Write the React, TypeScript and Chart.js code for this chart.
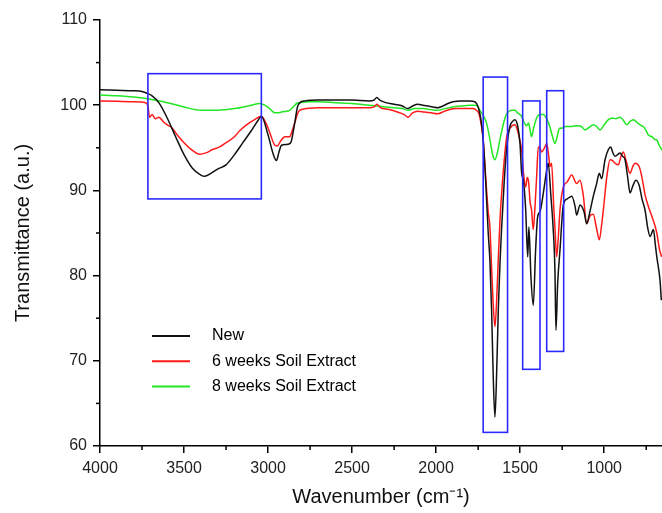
import React, { useEffect, useRef } from "react";
import { Chart, registerables } from "chart.js";

Chart.register(...registerables);

// ---- Data ----
const seriesLabels = ["New", "6 weeks Soil Extract", "8 weeks Soil Extract"];

const newWave = [4000, 3900, 3800, 3750, 3720, 3690, 3650, 3600, 3550, 3500, 3450, 3400, 3377, 3340, 3300, 3250, 3200, 3150, 3100, 3060, 3040, 3000, 2970, 2950, 2935, 2920, 2890, 2865, 2845, 2825, 2810, 2780, 2700, 2600, 2500, 2400, 2370, 2353, 2335, 2300, 2250, 2200, 2170, 2140, 2110, 2080, 2050, 2020, 1990, 1960, 1930, 1900, 1850, 1800, 1770, 1750, 1735, 1720, 1705, 1690, 1680, 1670, 1660, 1650, 1640, 1630, 1620, 1610, 1595, 1580, 1561, 1545, 1531, 1515, 1501, 1491, 1481, 1467, 1455, 1448, 1436, 1422, 1408, 1396, 1382, 1362, 1342, 1333, 1317, 1305, 1293, 1287, 1277, 1263, 1243, 1220, 1193, 1173, 1164, 1144, 1120, 1104, 1085, 1065, 1045, 1029, 1015, 995, 975, 961, 950, 936, 920, 906, 890, 876, 860, 846, 830, 811, 792, 775, 757, 740, 727, 707, 695, 687, 668, 660];
const newT = [101.8, 101.75, 101.7, 101.6, 101.4, 101.1, 100.3, 98.5, 96.3, 94.2, 92.6, 91.8, 91.65, 92.0, 92.5, 93.0, 94.2, 95.6, 97.0, 98.2, 98.7, 96.5, 94.3, 93.5, 94.5, 95.3, 95.4, 95.6, 97.5, 99.8, 100.3, 100.5, 100.6, 100.6, 100.6, 100.5, 100.6, 100.9, 100.6, 100.3, 100.1, 99.9, 99.6, 99.9, 100.1, 100.0, 99.9, 99.8, 99.7, 99.9, 100.2, 100.4, 100.5, 100.5, 100.4, 99.8, 98.5, 96.0, 91.0, 85.0, 81.8, 76.0, 68.0, 63.4, 68.5, 76.0, 81.5, 85.7, 91.0, 95.0, 97.5, 98.1, 98.3, 97.6, 95.5, 92.0, 91.2, 87.7, 82.2, 85.7, 79.9, 76.5, 83.0, 86.9, 87.5, 89.7, 92.4, 93.2, 89.3, 86.0, 80.6, 73.6, 79.0, 83.0, 88.3, 89.0, 89.3, 88.1, 87.1, 88.3, 87.5, 86.1, 87.5, 89.3, 90.8, 92.0, 91.4, 93.6, 94.8, 95.1, 94.5, 94.0, 94.2, 94.4, 94.0, 93.6, 91.5, 89.7, 90.5, 91.2, 90.6, 89.0, 87.7, 85.5, 84.6, 85.4, 83.5, 82.2, 79.5, 77.1];

const sixWave = [4000, 3900, 3800, 3730, 3715, 3705, 3690, 3670, 3650, 3620, 3600, 3570, 3540, 3500, 3450, 3407, 3370, 3330, 3288, 3250, 3200, 3169, 3120, 3080, 3040, 3010, 2985, 2960, 2945, 2925, 2900, 2871, 2860, 2840, 2820, 2800, 2700, 2600, 2500, 2400, 2370, 2353, 2330, 2280, 2230, 2190, 2167, 2140, 2110, 2070, 2030, 1990, 1950, 1920, 1880, 1820, 1780, 1760, 1745, 1730, 1720, 1705, 1690, 1680, 1670, 1660, 1650, 1640, 1630, 1620, 1610, 1595, 1580, 1560, 1531, 1515, 1501, 1491, 1480, 1467, 1458, 1451, 1440, 1432, 1422, 1412, 1402, 1392, 1382, 1372, 1355, 1342, 1330, 1322, 1313, 1300, 1293, 1283, 1273, 1263, 1243, 1220, 1193, 1164, 1144, 1125, 1104, 1085, 1065, 1045, 1029, 1015, 1005, 985, 965, 950, 936, 916, 900, 886, 870, 846, 830, 816, 792, 775, 757, 737, 717, 700, 687, 670, 658];
const sixT = [100.5, 100.45, 100.4, 100.3, 99.9, 98.6, 98.9, 98.4, 98.6, 98.0, 97.7, 97.3, 96.5, 95.6, 94.7, 94.25, 94.4, 94.8, 95.1, 95.6, 96.3, 97.0, 97.8, 98.3, 98.7, 97.8, 96.5, 95.3, 95.2, 95.8, 96.3, 96.3, 96.8, 98.0, 99.2, 99.5, 99.7, 99.7, 99.7, 99.7, 99.8, 100.1, 99.7, 99.5, 99.2, 98.9, 98.6, 99.1, 99.3, 99.2, 99.1, 99.0, 99.3, 99.5, 99.6, 99.6, 99.6, 99.4, 99.0, 97.5, 95.9, 91.5, 87.5, 85.7, 81.0, 76.5, 74.0, 77.0, 82.0, 86.5, 89.7, 93.5, 96.3, 97.3, 97.7, 97.0, 95.8, 94.7, 92.0, 90.4, 91.5, 91.2, 88.5, 87.7, 85.4, 88.0, 91.6, 95.1, 95.0, 94.5, 95.0, 95.5, 94.0, 92.8, 93.2, 88.0, 85.7, 82.2, 84.5, 87.7, 90.4, 91.0, 91.8, 90.8, 91.2, 89.5, 86.1, 87.0, 87.2, 85.5, 84.2, 86.0, 87.7, 91.5, 93.6, 93.5, 93.2, 93.0, 94.0, 94.5, 93.5, 92.0, 92.8, 93.2, 92.8, 91.5, 89.5, 88.1, 87.0, 86.0, 85.0, 83.0, 82.2];

const eightWave = [4000, 3900, 3800, 3700, 3600, 3500, 3400, 3300, 3200, 3100, 3050, 3020, 2990, 2960, 2940, 2920, 2890, 2871, 2850, 2830, 2812, 2750, 2700, 2600, 2500, 2400, 2353, 2300, 2250, 2200, 2167, 2130, 2080, 2040, 1990, 1950, 1900, 1850, 1800, 1770, 1750, 1740, 1720, 1700, 1680, 1665, 1650, 1635, 1620, 1600, 1585, 1571, 1550, 1531, 1515, 1501, 1491, 1475, 1462, 1450, 1440, 1432, 1420, 1402, 1385, 1362, 1342, 1325, 1310, 1293, 1280, 1265, 1253, 1230, 1193, 1160, 1135, 1114, 1090, 1064, 1045, 1025, 1000, 975, 950, 930, 906, 885, 866, 846, 826, 800, 780, 767, 750, 737, 715, 700, 687, 670, 656];
const eightT = [101.2, 101.1, 100.95, 100.7, 100.3, 99.8, 99.4, 99.4, 99.6, 100.0, 100.2, 100.0, 99.6, 99.1, 99.1, 99.2, 99.3, 99.4, 99.8, 100.2, 100.3, 100.4, 100.4, 100.3, 100.2, 100.0, 99.9, 99.8, 99.7, 99.6, 99.4, 99.6, 99.6, 99.5, 99.4, 99.6, 99.8, 99.9, 100.0, 100.0, 99.8, 99.4, 98.8, 97.9, 96.0, 94.3, 93.6, 94.5, 96.0, 97.8, 98.8, 99.2, 99.4, 99.4, 99.1, 98.9, 98.7, 97.9, 97.6, 97.9, 97.0, 96.3, 97.3, 98.5, 98.9, 98.9, 98.4, 97.6, 96.5, 95.5, 96.3, 97.3, 97.3, 97.5, 97.5, 97.6, 97.5, 97.1, 97.4, 97.7, 97.5, 97.1, 97.7, 98.3, 98.5, 98.4, 98.6, 98.2, 97.7, 98.1, 98.3, 97.9, 97.6, 97.5, 97.0, 96.5, 96.3, 96.0, 95.9, 95.2, 94.7];

// Highlight boxes: [wave from, wave to, T top, T bottom]
const boxWaveFrom = [3715, 1720, 1485, 1342];
const boxWaveTo = [3040, 1575, 1382, 1241];
const boxTTop = [103.7, 103.3, 100.5, 101.7];
const boxTBottom = [89.0, 61.6, 69.0, 71.1];

const seriesColors = ["#111111", "#ff1a1a", "#22e622"];

const toPoints = (xs: number[], ys: number[]) => xs.map((x, i) => ({ x, y: ys[i] }));

const boxesPlugin = {
  id: "boxes",
  afterDatasetsDraw(chart: any) {
    const { ctx, scales } = chart;
    const xs = scales.x;
    const ys = scales.y;
    ctx.save();
    ctx.strokeStyle = "#2a2aff";
    ctx.lineWidth = 1.6;
    for (let i = 0; i < boxWaveFrom.length; i++) {
      const x1 = xs.getPixelForValue(boxWaveFrom[i]);
      const x2 = xs.getPixelForValue(boxWaveTo[i]);
      const y1 = ys.getPixelForValue(boxTTop[i]);
      const y2 = ys.getPixelForValue(boxTBottom[i]);
      ctx.strokeRect(Math.min(x1, x2), y1, Math.abs(x2 - x1), y2 - y1);
    }
    ctx.restore();
  },
};

const minorTickPlugin = {
  id: "minorTicks",
  afterDraw(chart: any) {
    const { ctx, scales, chartArea } = chart;
    ctx.save();
    ctx.strokeStyle = "#000";
    ctx.lineWidth = 1.5;
    scales.x.ticks.forEach((t: any) => {
      if (t.value % 500 !== 0) {
        const px = scales.x.getPixelForValue(t.value);
        ctx.beginPath();
        ctx.moveTo(px, chartArea.bottom);
        ctx.lineTo(px, chartArea.bottom + 4);
        ctx.stroke();
      }
    });
    scales.y.ticks.forEach((t: any) => {
      if (t.value % 10 !== 0) {
        const py = scales.y.getPixelForValue(t.value);
        ctx.beginPath();
        ctx.moveTo(chartArea.left - 4, py);
        ctx.lineTo(chartArea.left, py);
        ctx.stroke();
      }
    });
    ctx.restore();
  },
};

const legendPlugin = {
  id: "innerLegend",
  afterDraw(chart: any) {
    const { ctx, chartArea } = chart;
    ctx.save();
    ctx.font = "16px 'Liberation Sans', Arial, sans-serif";
    ctx.textBaseline = "middle";
    ctx.textAlign = "left";
    chart.data.datasets.forEach((ds: any, i: number) => {
      const y = chartArea.top + 316 + i * 25.3;
      ctx.strokeStyle = ds.borderColor;
      ctx.lineWidth = 2;
      ctx.beginPath();
      ctx.moveTo(chartArea.left + 52, y);
      ctx.lineTo(chartArea.left + 90, y);
      ctx.stroke();
      ctx.fillStyle = "#000";
      ctx.fillText(ds.label, chartArea.left + 112, y);
    });
    ctx.restore();
  },
};

export default function App() {
  const ref = useRef<HTMLCanvasElement | null>(null);

  useEffect(() => {
    if (!ref.current) return;
    const series = [toPoints(newWave, newT), toPoints(sixWave, sixT), toPoints(eightWave, eightT)];
    const chart = new Chart(ref.current, {
      type: "line",
      data: {
        datasets: series.map((pts, i) => ({
          label: seriesLabels[i],
          data: pts,
          borderColor: seriesColors[i],
          backgroundColor: seriesColors[i],
          borderWidth: 1.5,
          pointRadius: 0,
          cubicInterpolationMode: "monotone" as const,
          fill: false,
        })),
      },
      options: {
        responsive: false,
        animation: false,
        layout: { padding: { top: 20, right: 0, left: 0, bottom: 0 } },
        plugins: { legend: { display: false }, tooltip: { enabled: false } },
        scales: {
          x: {
            type: "linear",
            reverse: true,
            min: 656,
            max: 4000,
            afterFit: (s: any) => {
              s.height = 67;
            },
            ticks: {
              stepSize: 250,
              includeBounds: false,
              autoSkip: false,
              maxRotation: 0,
              padding: 6,
              color: "#222",
              font: { size: 16, family: "'Liberation Sans', Arial, sans-serif" },
              callback: (v: any) => (Number(v) % 500 === 0 ? String(v) : ""),
            },
            grid: {
              drawOnChartArea: false,
              drawTicks: true,
              tickLength: 7,
              lineWidth: 1.5,
              color: (c: any) => (c.tick && c.tick.value % 500 === 0 ? "#000" : "rgba(0,0,0,0)"),
            },
            border: { display: true, color: "#000", width: 1.5 },
            title: {
              display: true,
              text: "Wavenumber (cm⁻¹)",
              color: "#111",
              font: { size: 20, family: "'Liberation Sans', Arial, sans-serif" },
              padding: { top: 0, bottom: 4 },
            },
          },
          y: {
            type: "linear",
            min: 60,
            max: 110,
            afterFit: (s: any) => {
              s.width = 100;
            },
            ticks: {
              stepSize: 5,
              autoSkip: false,
              padding: 6,
              color: "#222",
              font: { size: 16, family: "'Liberation Sans', Arial, sans-serif" },
              callback: (v: any) => (Number(v) % 10 === 0 ? String(v) : ""),
            },
            grid: {
              drawOnChartArea: false,
              drawTicks: true,
              tickLength: 7,
              lineWidth: 1.5,
              color: (c: any) => (c.tick && c.tick.value % 10 === 0 ? "#000" : "rgba(0,0,0,0)"),
            },
            border: { display: true, color: "#000", width: 1.5 },
            title: {
              display: true,
              text: "Transmittance (a.u.)",
              color: "#111",
              font: { size: 20, family: "'Liberation Sans', Arial, sans-serif" },
              padding: { top: 11, bottom: 0 },
            },
          },
        },
      },
      plugins: [boxesPlugin, minorTickPlugin, legendPlugin],
    });
    return () => chart.destroy();
  }, []);

  return (
    <div style={{ position: "fixed", left: 0, top: 0, width: 662, height: 513, background: "#fff" }}>
      <canvas ref={ref} width={662} height={513} style={{ width: 662, height: 513, display: "block" }} />
    </div>
  );
}
